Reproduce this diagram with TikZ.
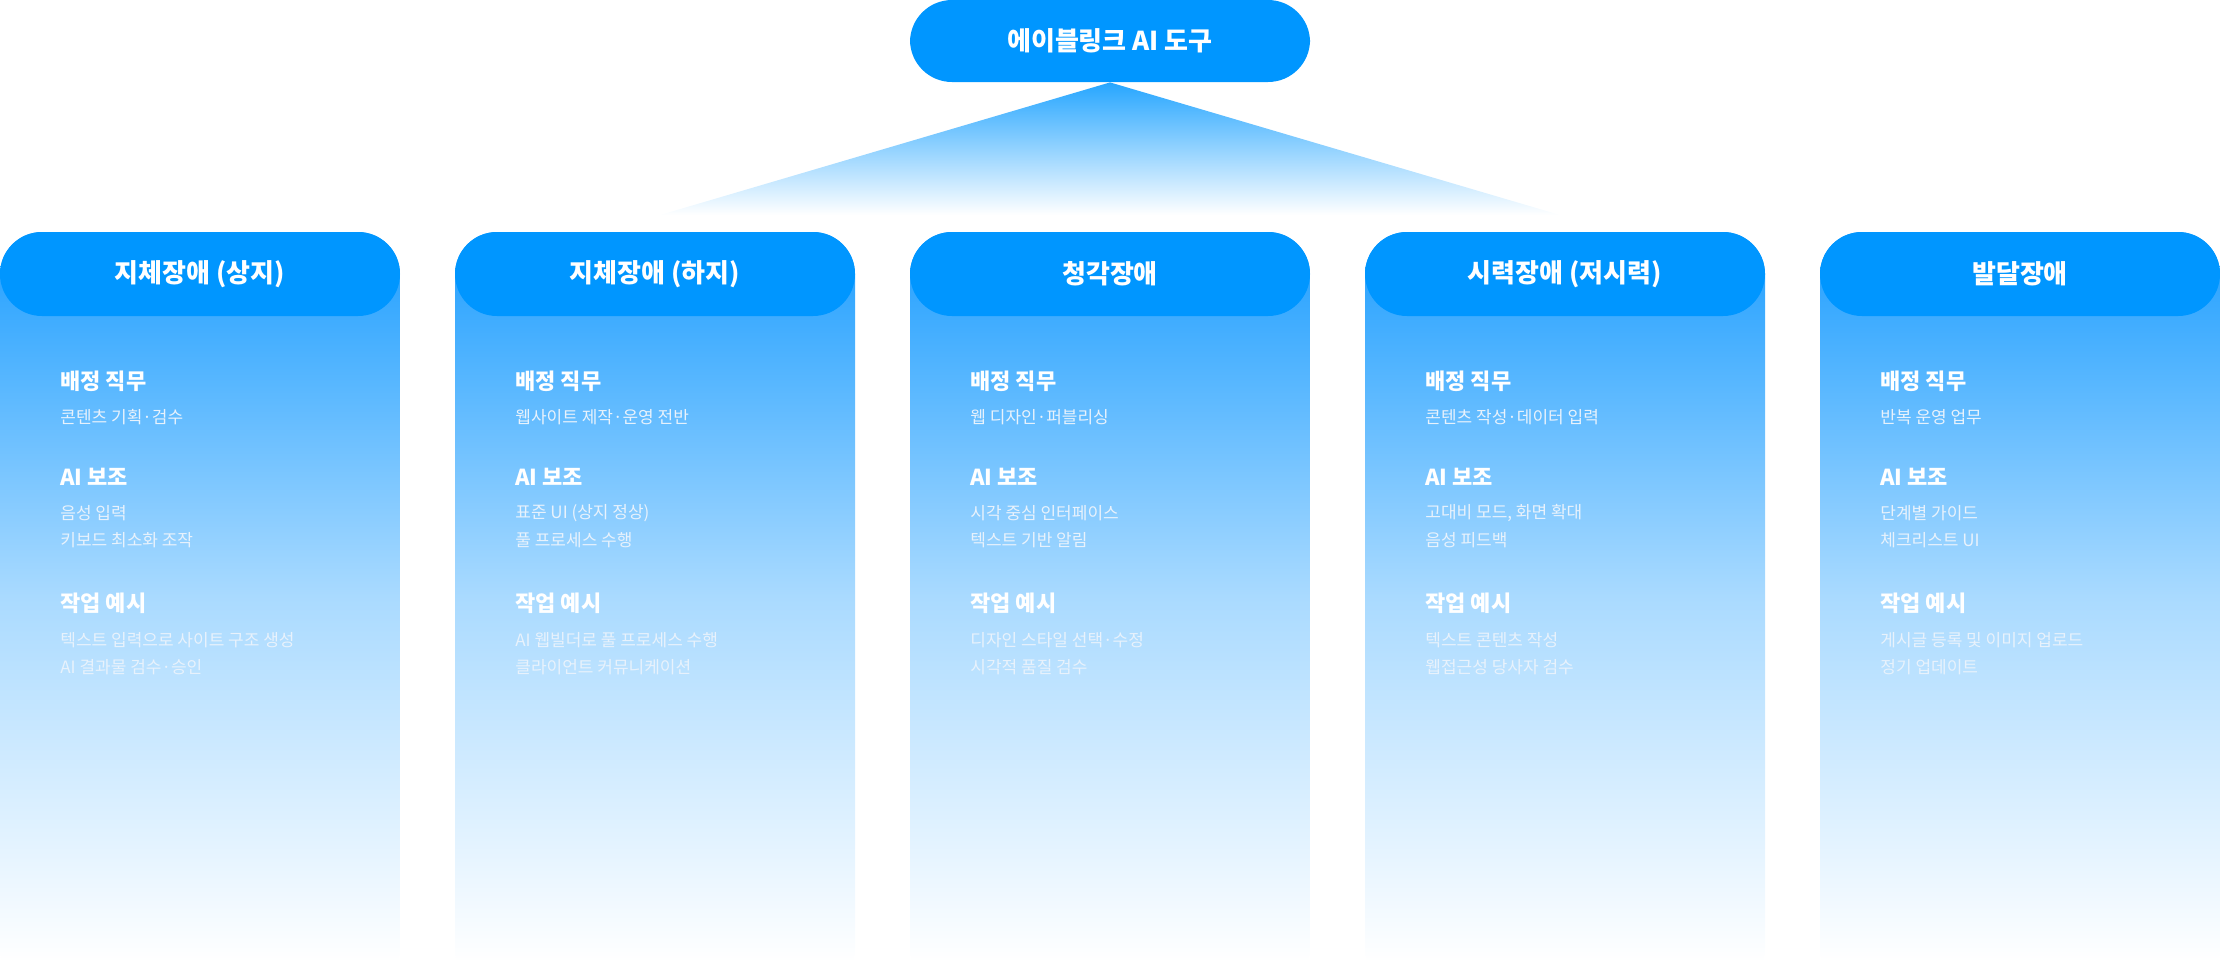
\documentclass[tikz,border=0pt]{standalone}
\usepackage{fontspec}
\setmainfont{Noto Sans CJK KR}
\usetikzlibrary{positioning}
\definecolor{mainblue}{RGB}{0,150,255}
\definecolor{bodyblue}{RGB}{30,158,255}
\definecolor{itemgray}{RGB}{232,242,252}
\tikzset{
  pill/.style={rectangle, rounded corners=21pt, fill=mainblue, minimum width=200pt, minimum height=42pt, text=white, font=\bfseries\fontsize{13}{15}\selectfont, inner sep=0pt},
  sec/.style={anchor=west, text=white, font=\bfseries\fontsize{11}{13}\selectfont, inner sep=0pt},
  item/.style={anchor=west, text=itemgray, font=\fontsize{8.5}{10}\selectfont, inner sep=0pt}
}
\begin{document}
\begin{tikzpicture}[x=0.5pt, y=-0.5pt]
  \useasboundingbox (0,0) rectangle (2220,976);
  % Top node
  \node[pill, minimum height=41pt] (top) at (1110,41) {에이블링크 AI 도구};
  % Fan
  \shade[top color=mainblue!85, bottom color=white] (top.south) -- (660,215) -- (1560,215) -- cycle;
  % Cards
  \foreach \i/\x/\name/\job/\aia/\aib/\exa/\exb in {
    1/0/지체장애 (상지)/콘텐츠 기획·검수/음성 입력/키보드 최소화 조작/텍스트 입력으로 사이트 구조 생성/AI 결과물 검수·승인,
    2/455/지체장애 (하지)/웹사이트 제작·운영 전반/표준 UI (상지 정상)/풀 프로세스 수행/AI 웹빌더로 풀 프로세스 수행/클라이언트 커뮤니케이션,
    3/910/청각장애/웹 디자인·퍼블리싱/시각 중심 인터페이스/텍스트 기반 알림/디자인 스타일 선택·수정/시각적 품질 검수,
    4/1365/시력장애 (저시력)/콘텐츠 작성·데이터 입력/{고대비 모드, 화면 확대}/음성 피드백/텍스트 콘텐츠 작성/웹접근성 당사자 검수,
    5/1820/발달장애/반복 운영 업무/단계별 가이드/체크리스트 UI/게시글 등록 및 이미지 업로드/정기 업데이트}
  {
    \begin{scope}
      \clip[rounded corners=21pt] (\x,232) rectangle ++(400,760);
      \shade[top color=bodyblue, bottom color=white, middle color=bodyblue!38] (\x,232) rectangle ++(400,730);
    \end{scope}
    \node[pill] (h\i) at (\x+200,274) {\name};
    \node[sec] (job\i) at (\x+60,381) {배정 직무};
    \node[item] (jobt\i) at (\x+60,417) {\job};
    \node[sec] (ai\i) at (\x+60,477) {AI 보조};
    \node[item] (aia\i) at (\x+60,513) {\aia};
    \node[item] (aib\i) at (\x+60,540) {\aib};
    \node[sec] (ex\i) at (\x+60,603) {작업 예시};
    \node[item] (exa\i) at (\x+60,640) {\exa};
    \node[item] (exb\i) at (\x+60,667) {\exb};
  }
\end{tikzpicture}
\end{document}
